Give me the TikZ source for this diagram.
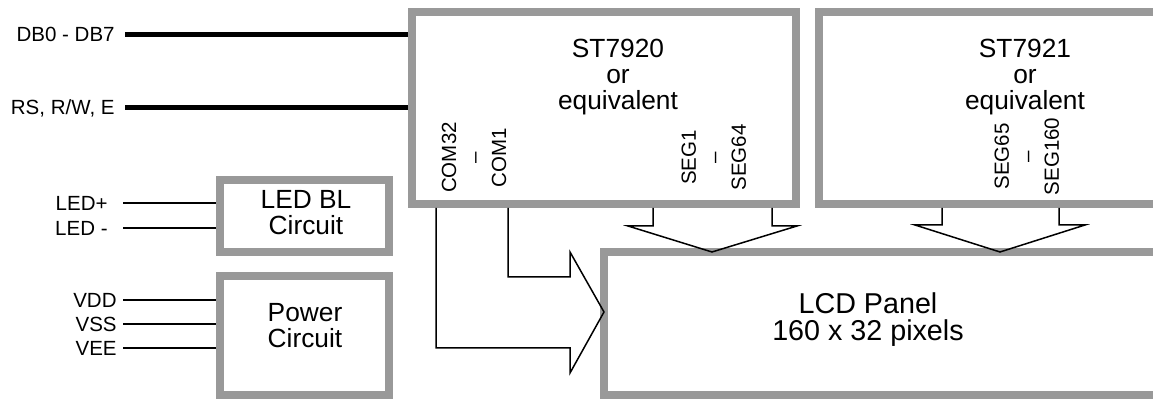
\documentclass[tikz,border=0pt]{standalone}
\usepackage{fontspec}
\setmainfont{Liberation Sans}
\usetikzlibrary{positioning,calc}
\definecolor{BoxGray}{RGB}{153,153,153}
\tikzset{block layout/.style={%
    y=-0.5pt,%
    x=0.5pt,%
    every node/.style={%
        inner sep=0pt
    },%
    every path/.style={%
        line join=miter
    }%
}}
\tikzset{gray box/.style={%
    draw=BoxGray, line width=4pt, fill=white, rectangle
}}
\tikzset{box text/.style={%
    align=center, font=\fontsize{13.15}{13}\selectfont
}}
\tikzset{panel text/.style={%
    align=center, font=\fontsize{14.35}{13.5}\selectfont
}}
\tikzset{pin label/.style={%
    anchor=east, font=\fontsize{10.25}{12.5}\selectfont
}}
\tikzset{pin group/.style={%
    rotate=90, align=center, font=\fontsize{10.25}{12.5}\selectfont
}}
\tikzset{bus/.style={black, line width=2.5pt}}
\tikzset{wire/.style={black, line width=0.75pt}}

\begin{document}
\begin{tikzpicture}[block layout]
    \useasboundingbox (0,0) rectangle (1153,399);

    % blocks
    \node (cpu1) at (604,108) [gray box, minimum width=192pt, minimum height=96pt] {};
    \node (cpu2) at (988,108) [gray box, minimum width=169pt, minimum height=96pt] {};
    \node (led) at (304.5,216.5) [gray box, minimum width=84.5pt, minimum height=36pt] {};
    \node (pwr) at (304.5,336) [gray box, minimum width=84.5pt, minimum height=59.5pt] {};
    \node (lcd) at (880.5,324) [gray box, minimum width=276.5pt, minimum height=71.5pt] {};

    \node (cpu1txt) at (618,77.4) [box text] {ST7920\\or\\equivalent};
    \node (cpu2txt) at (1025,77.4) [box text] {ST7921\\or\\equivalent};
    \node (ledtxt) at (306,212.6) [box text] {LED BL\\Circuit};
    \node (pwrtxt) at (305,325.6) [box text] {Power\\Circuit};
    \node (lcdtxt) at (868,319.3) [panel text] {LCD Panel\\160 x 32 pixels};

    \node (com) at (474,157.5) [pin group] {COM32\\\textendash\\COM1};
    \node (segA) at (713.7,157.5) [pin group] {SEG1\\\textendash\\SEG64};
    \node (segB) at (1026.7,156.5) [pin group] {SEG65\\\textendash\\SEG160};

    % inputs
    \foreach \name/\txt/\y in {db/{DB0 - DB7}/34.5, ctl/{RS, R/W, E}/108} {
        \node (pin\name) at (115,\y) [pin label] {\txt};
        \draw [bus] ([xshift=5pt]pin\name.east) -- (pin\name.east -| cpu1.west);
    }
    \foreach \name/\txt/\y in {ledp/LED+/203, ledm/LED -/228} {
        \node (pin\name) at (108,\y) [pin label] {\txt};
        \draw [wire] ([xshift=7.5pt]pin\name.east) -- (pin\name.east -| led.west);
    }
    \foreach \name/\y in {VDD/300, VSS/324, VEE/348} {
        \node (pin\name) at (117,\y) [pin label] {\name};
        \draw [wire] ([xshift=3pt]pin\name.east) -- (pin\name.east -| pwr.west);
    }

    % outline arrows into the panel
    \draw [wire] (436,0 |- cpu1.south) -- (436,348) -- (570,348) -- (570,373)
        -- (604,312) -- (570,252) -- (570,277) -- (508,277) -- (508,0 |- cpu1.south);
    \draw [wire] (653,0 |- cpu1.south) -- (653,226) -- (628,226) -- (712,252)
        -- (797,226) -- (772,226) -- (772,0 |- cpu1.south);
    \draw [wire] (942,0 |- cpu2.south) -- (942,225) -- (915,225) -- (1000,252)
        -- (1085,225) -- (1059,225) -- (1059,0 |- cpu2.south);
\end{tikzpicture}
\end{document}
